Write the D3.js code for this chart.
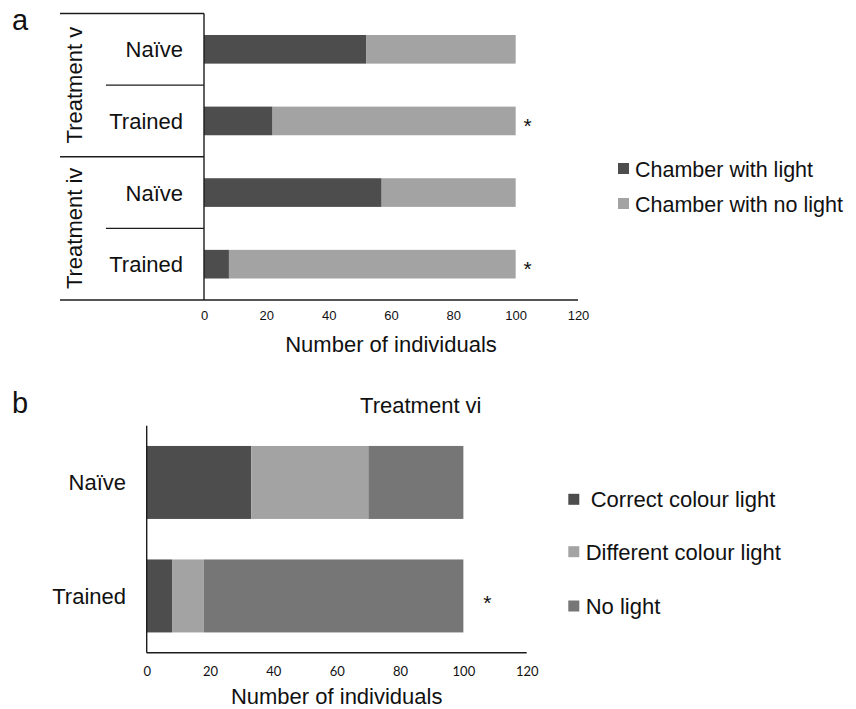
<!DOCTYPE html>
<html>
<head>
<meta charset="utf-8">
<script src="https://cdn.jsdelivr.net/npm/d3@7"></script>
<style>
  html, body { margin: 0; padding: 0; background: #fff; }
  svg { display: block; }
  text { font-family: "Liberation Sans", Arial, sans-serif; fill: #111; }
</style>
</head>
<body>
<svg id="chart" width="856" height="709"></svg>
<script>
// ---- Panel a: choice of chamber, treatments v and iv ----
const rowsA = ["v-naive", "v-trained", "iv-naive", "iv-trained"];
const rowLabelsA = ["Naïve", "Trained", "Naïve", "Trained"];
const groupLabelsA = ["Treatment v", "Treatment iv"];
const withLightA = [52, 22, 57, 8];
const noLightA = [48, 78, 43, 92];
const significantA = [false, true, false, true];
const seriesA = ["Chamber with light", "Chamber with no light"];

// ---- Panel b: treatment vi ----
const rowsB = ["Naïve", "Trained"];
const correctColourB = [33, 8];
const differentColourB = [37, 10];
const noLightB = [30, 82];
const significantB = [false, true];
const seriesB = ["Correct colour light", "Different colour light", "No light"];

const xTicks = [0, 20, 40, 60, 80, 100, 120];

const DARK = "#4d4d4d", LIGHT = "#a3a3a3", MID = "#767676", INK = "#1c1c1c";

const svg = d3.select("#chart");

// ================= Panel a =================
const gA = svg.append("g");
const xA = d3.scaleLinear().domain([0, 120]).range([204, 578]);
const yA = d3.scaleBand().domain(rowsA).range([13.5, 300]).paddingInner(0.6).paddingOuter(0.3);

const stackA = rowsA.map((r, i) => ({ row: r, parts: [
  { s: seriesA[0], x0: 0, x1: withLightA[i], c: DARK },
  { s: seriesA[1], x0: withLightA[i], x1: withLightA[i] + noLightA[i], c: LIGHT }
]}));

gA.selectAll("g.bar").data(stackA).join("g").attr("class", "bar")
  .selectAll("rect").data(d => d.parts.map(p => ({ ...p, row: d.row })))
  .join("rect")
  .attr("x", d => xA(d.x0))
  .attr("width", d => xA(d.x1) - xA(d.x0))
  .attr("y", d => yA(d.row))
  .attr("height", yA.bandwidth())
  .attr("fill", d => d.c);

// x axis tick labels
const axA = gA.append("g").attr("transform", "translate(0,300)")
  .call(d3.axisBottom(xA).tickValues(xTicks).tickSize(0).tickPadding(11));
axA.select(".domain").remove();
axA.selectAll("text").style("font-family", "Liberation Sans, Arial, sans-serif")
  .style("font-size", "13px").attr("fill", "#222");

// frame lines of the category axis
const stepA = yA.step();
const edge = r => yA(r) - stepA * yA.paddingInner() / 2;
const lineA = (x1, y1, x2, y2) => gA.append("line")
  .attr("x1", x1).attr("y1", y1).attr("x2", x2).attr("y2", y2)
  .attr("stroke", INK).attr("stroke-width", 1.4);
lineA(60, 300, xA(120), 300);                 // baseline
lineA(xA(0), 13.5, xA(0), 300);              // value axis
lineA(60, 13.5, xA(0), 13.5);                // top of frame
lineA(60, edge(rowsA[2]), xA(0), edge(rowsA[2]));    // group divider
lineA(106, edge(rowsA[1]), xA(0), edge(rowsA[1]));   // row dividers
lineA(106, edge(rowsA[3]), xA(0), edge(rowsA[3]));

// row labels
gA.selectAll("text.row").data(rowsA).join("text").attr("class", "row")
  .attr("x", 183).attr("y", d => yA(d) + yA.bandwidth() / 2 + 8)
  .attr("text-anchor", "end").style("font-size", "22px")
  .text((d, i) => rowLabelsA[i]);

// group labels (rotated)
groupLabelsA.forEach((t, i) => {
  const yMid = (edge(rowsA[i * 2]) + edge(rowsA[i * 2]) + 2 * stepA) / 2;
  gA.append("text").attr("transform", `translate(82,${yMid}) rotate(-90)`)
    .attr("text-anchor", "middle").style("font-size", "22px").text(t);
});

// significance marks
gA.selectAll("text.sig").data(rowsA.filter((r, i) => significantA[i])).join("text")
  .attr("class", "sig").attr("x", xA(100) + 12).attr("y", d => yA(d) + yA.bandwidth() / 2 + 12)
  .attr("text-anchor", "middle").style("font-size", "21px").text("*");

// axis title
gA.append("text").attr("x", (xA(0) + xA(120)) / 2).attr("y", 351.5)
  .attr("text-anchor", "middle").style("font-size", "22px").text("Number of individuals");

// panel letter
gA.append("text").attr("x", 12).attr("y", 30).style("font-size", "29px").text("a");

// legend
const legA = gA.append("g");
seriesA.forEach((s, i) => {
  const cy = 168.5 + i * 35;
  legA.append("rect").attr("x", 618).attr("y", cy - 5.5).attr("width", 11).attr("height", 11)
    .attr("fill", i === 0 ? DARK : LIGHT);
  legA.append("text").attr("x", 635).attr("y", cy + 8).style("font-size", "21.5px").text(s);
});

// ================= Panel b =================
const gB = svg.append("g");
const xB = d3.scaleLinear().domain([0, 120]).range([146.7, 526.7]);
const yB = d3.scaleBand().domain(rowsB).range([425.7, 652.7]).paddingInner(0.357).paddingOuter(0.1785);
const coloursB = [DARK, LIGHT, MID];

const stackB = rowsB.map((r, i) => {
  const vals = [correctColourB[i], differentColourB[i], noLightB[i]];
  let acc = 0;
  return { row: r, parts: vals.map((v, k) => { const p = { x0: acc, x1: acc + v, c: coloursB[k] }; acc += v; return p; }) };
});

gB.selectAll("g.bar").data(stackB).join("g").attr("class", "bar")
  .selectAll("rect").data(d => d.parts.map(p => ({ ...p, row: d.row })))
  .join("rect")
  .attr("x", d => xB(d.x0))
  .attr("width", d => xB(d.x1) - xB(d.x0))
  .attr("y", d => yB(d.row))
  .attr("height", yB.bandwidth())
  .attr("fill", d => d.c);

const axB = gB.append("g").attr("transform", "translate(0,652.7)")
  .call(d3.axisBottom(xB).tickValues(xTicks).tickSize(0).tickPadding(14));
axB.select(".domain").remove();
axB.selectAll("text").style("font-family", "Lato, 'Open Sans', sans-serif")
  .style("font-size", "13px").attr("fill", "#222");

const lineB = (x1, y1, x2, y2) => gB.append("line")
  .attr("x1", x1).attr("y1", y1).attr("x2", x2).attr("y2", y2)
  .attr("stroke", INK).attr("stroke-width", 1.4);
lineB(xB(0), 652.7, xB(120), 652.7);
lineB(xB(0), 425.7, xB(0), 652.7);

gB.selectAll("text.row").data(rowsB).join("text").attr("class", "row")
  .attr("x", 126).attr("y", d => yB(d) + yB.bandwidth() / 2 + 8)
  .attr("text-anchor", "end").style("font-size", "22px").text(d => d);

gB.selectAll("text.sig").data(rowsB.filter((r, i) => significantB[i])).join("text")
  .attr("class", "sig").attr("x", 487.3).attr("y", d => yB(d) + yB.bandwidth() / 2 + 14)
  .attr("text-anchor", "middle").style("font-size", "21px").text("*");

gB.append("text").attr("x", (xB(0) + xB(120)) / 2).attr("y", 704)
  .attr("text-anchor", "middle").style("font-size", "22px").text("Number of individuals");

gB.append("text").attr("x", 420.8).attr("y", 413.3)
  .attr("text-anchor", "middle").style("font-size", "22px").text("Treatment vi");

gB.append("text").attr("x", 12).attr("y", 413).style("font-size", "29px").text("b");

const legB = gB.append("g");
const legBy = [499.3, 551.7, 606];
const legBx = [590.7, 585.7, 585.7];
seriesB.forEach((s, i) => {
  legB.append("rect").attr("x", 568.3).attr("y", legBy[i] - 5.5).attr("width", 11).attr("height", 11)
    .attr("fill", coloursB[i]);
  legB.append("text").attr("x", legBx[i]).attr("y", legBy[i] + 8)
    .style("font-size", "22px").text(s);
});
</script>
</body>
</html>
